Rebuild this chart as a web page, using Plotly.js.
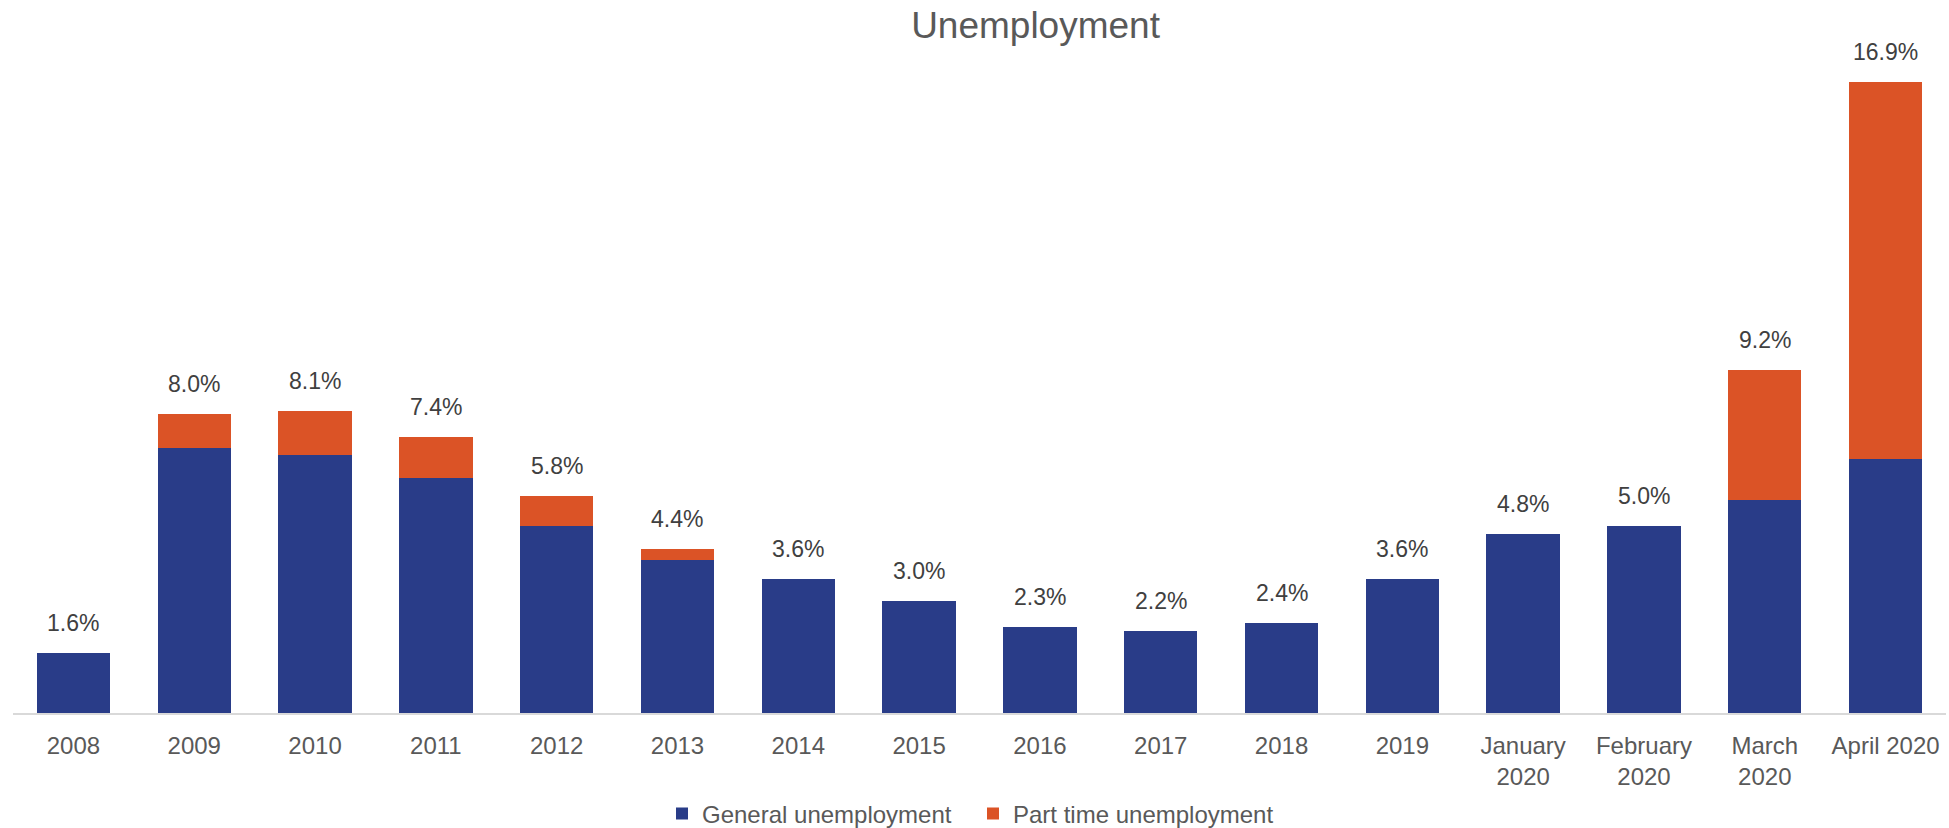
<!DOCTYPE html>
<html>
<head>
<meta charset="utf-8">
<script src="https://cdn.plot.ly/plotly-3.0.1.min.js"></script>
<style>
  html, body { margin: 0; padding: 0; background: #ffffff; }
  #chart { width: 1949px; height: 828px; }
</style>
</head>
<body>
<div id="chart"></div>
<script>
const categories = ['2008', '2009', '2010', '2011', '2012', '2013', '2014', '2015', '2016', '2017', '2018', '2019',
  'January 2020', 'February 2020', 'March 2020', 'April 2020'];
const tickLabels = ['2008', '2009', '2010', '2011', '2012', '2013', '2014', '2015', '2016', '2017', '2018', '2019',
  'January<br>2020', 'February<br>2020', 'March<br>2020', 'April 2020'];
const generalUnemployment = [1.6, 7.1, 6.9, 6.3, 5.0, 4.1, 3.6, 3.0, 2.3, 2.2, 2.4, 3.6, 4.8, 5.0, 5.7, 6.8];
const partTimeUnemployment = [0, 0.9, 1.2, 1.1, 0.8, 0.3, 0, 0, 0, 0, 0, 0, 0, 0, 3.5, 10.1];
const totalLabels = ['1.6%', '8.0%', '8.1%', '7.4%', '5.8%', '4.4%', '3.6%', '3.0%', '2.3%', '2.2%', '2.4%', '3.6%',
  '4.8%', '5.0%', '9.2%', '16.9%'];

const FONT = '"Liberation Sans", Arial, Helvetica, sans-serif';
const BLUE = '#293C88';
const ORANGE = '#DB5326';

const traces = [
  {
    type: 'bar',
    name: 'General unemployment',
    x: categories,
    y: generalUnemployment,
    marker: { color: BLUE, line: { width: 0 } },
    hoverinfo: 'skip'
  },
  {
    type: 'bar',
    name: 'Part time unemployment',
    x: categories,
    y: partTimeUnemployment,
    marker: { color: ORANGE, line: { width: 0 } },
    hoverinfo: 'skip'
  }
];

// On a category axis annotations use the category's serial index
const annotations = categories.map((c, i) => ({
  x: i,
  y: generalUnemployment[i] + partTimeUnemployment[i],
  xref: 'x',
  yref: 'y',
  text: totalLabels[i],
  showarrow: false,
  yanchor: 'bottom',
  yshift: 15,
  font: { family: FONT, size: 23, color: '#404040' }
}));

const layout = {
  width: 1949,
  height: 828,
  paper_bgcolor: '#ffffff',
  plot_bgcolor: '#ffffff',
  margin: { l: 13, r: 3, t: 41, b: 115 },
  barmode: 'stack',
  bargap: 0.393,
  showlegend: true,
  title: {
    text: 'Unemployment',
    font: { family: FONT, size: 37, color: '#595959' },
    x: 0.529,
    xref: 'paper',
    xanchor: 'center',
    y: 0.97,
    yref: 'container',
    yanchor: 'middle'
  },
  xaxis: {
    type: 'category',
    categoryorder: 'array',
    categoryarray: categories,
    range: [-0.5, categories.length - 0.5],
    autorange: false,
    automargin: false,
    tickmode: 'array',
    tickvals: categories,
    ticktext: tickLabels,
    showline: true,
    linecolor: '#d9d9d9',
    linewidth: 2,
    showgrid: false,
    zeroline: false,
    ticks: '',
    ticklabelstandoff: 10,
    tickfont: { family: FONT, size: 24, color: '#595959' },
    fixedrange: true
  },
  yaxis: {
    range: [0, 18],
    autorange: false,
    automargin: false,
    visible: false,
    showgrid: false,
    zeroline: false,
    fixedrange: true
  },
  legend: {
    orientation: 'h',
    xref: 'container',
    yref: 'container',
    x: 662 / 1949,
    xanchor: 'left',
    y: 1 - 814 / 828,
    yanchor: 'middle',
    font: { family: FONT, size: 24, color: '#595959' },
    itemwidth: 30,
    entrywidth: 266,
    entrywidthmode: 'pixels',
    traceorder: 'normal',
    bgcolor: 'rgba(0,0,0,0)'
  },
  annotations: annotations,
  hovermode: false
};

Plotly.newPlot('chart', traces, layout, { displayModeBar: false, staticPlot: true });
</script>
</body>
</html>
